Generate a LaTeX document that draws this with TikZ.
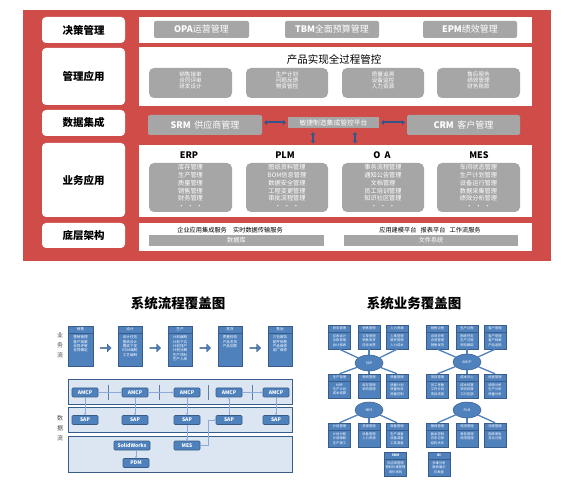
\documentclass[tikz,border=0pt]{standalone}
\usepackage{fontspec}
\setmainfont{Noto Sans CJK SC}
\usetikzlibrary{arrows.meta,shapes.geometric,shapes.arrows}
\definecolor{redbg}{HTML}{CF4C48}
\definecolor{grayB}{HTML}{A6A6A6}
\definecolor{blueF}{HTML}{4F81BD}
\definecolor{blueD}{HTML}{385D8A}
\definecolor{bandF}{HTML}{DCE6F2}
\definecolor{lineL}{HTML}{8EAADB}
\definecolor{arrD}{HTML}{34558B}
\newcommand{\fsz}[2]{\fontsize{#1}{#2}\selectfont}
\newcommand{\mkflow}[4]{%
  \node[fbody] (#1) at (#2,346) {};
  \node[fhead] (#1h) at (#2,329.5) {#3};
  \node[ftext, anchor=north] (#1t) at (#2,335.5) {#4};
}
\newcommand{\mkbiz}[5]{%
  \node[bbody] (#1) at (#2,#3+12) {};
  \node[bhead] (#1h) at (#2,#3+3.5) {#4};
  \node[btext, anchor=north] (#1t) at (#2,#3+9.5) {#5};
}
\begin{document}
\begin{tikzpicture}[x=1pt,y=-1pt,
  lbl/.style={fill=white, rounded corners=4pt, minimum width=83pt, inner sep=0pt, font=\bfseries\fsz{10.5}{12}},
  panel/.style={fill=white, minimum width=393pt, inner sep=0pt},
  gboxA/.style={fill=grayB, rounded corners=2pt, text=white, inner sep=0pt, minimum height=17pt, font=\fsz{9}{10}},
  gboxB/.style={fill=grayB, rounded corners=5pt, inner sep=0pt},
  gtext/.style={text=white, align=center, inner sep=0pt, font=\fsz{5.6}{6.2}},
  ltext/.style={text=white, align=center, inner sep=0pt, font=\fsz{6.2}{7.7}},
  hdr/.style={inner sep=0pt, font=\bfseries\fsz{9}{10}},
  dbl/.style={draw=arrD, line width=2pt, {Triangle[length=2.6pt,width=4.6pt]}-{Triangle[length=2.6pt,width=4.6pt]}},
  bar/.style={fill=grayB, inner sep=0pt, minimum height=11pt, text=white, font=\fsz{6.2}{7}},
  small/.style={inner sep=0pt, font=\fsz{6.2}{7}},
  ttl/.style={inner sep=0pt, font=\bfseries\fsz{13.5}{15}},
  side/.style={inner sep=0pt, align=center, text=black!70, font=\fsz{6}{10}},
  fbody/.style={fill=blueF, draw=blueD, line width=0.5pt, minimum width=24.5pt, minimum height=40pt, inner sep=0pt},
  fhead/.style={fill=blueF, draw=blueD, line width=0.5pt, minimum width=24.5pt, minimum height=7pt, inner sep=0pt, text=white, font=\fsz{3.6}{4}},
  ftext/.style={text=white, align=center, inner sep=0pt, font=\fsz{3.6}{4.4}},
  farr/.style={single arrow, fill=blueF, draw=blueD, line width=0.3pt, minimum width=8pt, minimum height=11pt, single arrow head extend=1.5pt, inner sep=0pt},
  band/.style={fill=bandF, draw=blueD, line width=0.8pt, minimum width=224pt, inner sep=0pt},
  sbox/.style={fill=blueF, draw=blueD, line width=0.6pt, rounded corners=1pt, minimum width=26pt, minimum height=9pt, inner sep=0pt, text=white, font=\bfseries\fsz{5}{6}},
  conn/.style={draw=lineL, line width=0.6pt, -{Stealth[length=2.2pt,width=2.2pt]}},
  sep/.style={draw=blueD!80, line width=0.8pt},
  bbody/.style={fill=blueF, draw=blueD, line width=0.5pt, minimum width=22pt, minimum height=24pt, inner sep=0pt},
  bhead/.style={fill=blueF, draw=blueD, line width=0.5pt, minimum width=22pt, minimum height=7pt, inner sep=0pt, text=white, font=\fsz{3.3}{4}},
  btext/.style={text=white, align=center, inner sep=0pt, font=\fsz{3.3}{4.3}},
  ell/.style={ellipse, fill=blueF, draw=blueD, line width=0.5pt, minimum width=28pt, minimum height=16pt, inner sep=0pt, text=white, font=\fsz{3.5}{4}},
  eline/.style={draw=blueF, line width=1.3pt}
]
\useasboundingbox[fill=white] (0,0) rectangle (579,497);

% ================= top architecture =================
\fill[redbg] (23,10) rectangle (551,261);

\node[lbl, minimum height=26pt] (l1) at (83.5,30) {决策管理};
\node[lbl, minimum height=57pt] (l2) at (83.5,76.5) {管理应用};
\node[lbl, minimum height=26pt] (l3) at (83.5,123) {数据集成};
\node[lbl, minimum height=74pt] (l4) at (83.5,180) {业务应用};
\node[lbl, minimum height=25pt] (l5) at (83.5,235.5) {底层架构};

\node[panel, minimum height=26pt] (p1) at (335.5,30) {};
\node[panel, minimum height=59pt] (p2) at (335.5,76.5) {};
\node[panel, minimum height=72pt] (p4) at (335.5,181) {};
\node[panel, minimum height=28pt] (p5) at (335.5,237) {};

% row 1
\node[gboxA, minimum width=95pt] (opa) at (201.5,29.5) {\textbf{OPA}运营管理};
\node[gboxA, minimum width=94pt] (tbm) at (332,29.5) {\textbf{TBM}全面预算管理};
\node[gboxA, minimum width=94pt] (epm) at (470,29.5) {\textbf{EPM}绩效管理};

% row 2
\node[inner sep=0pt, font=\fsz{10.5}{12}] (t2) at (334,59) {产品实现全过程管控};
\node[gboxB, minimum width=83pt, minimum height=30pt] (m1) at (190.5,83) {};
\node[gboxB, minimum width=82pt, minimum height=30pt] (m2) at (287,83) {};
\node[gboxB, minimum width=82pt, minimum height=30pt] (m3) at (383,83) {};
\node[gboxB, minimum width=83pt, minimum height=30pt] (m4) at (478.5,83) {};
\node[gtext] (m1t) at (190.5,80.5) {销售接单\\合同评审\\研发设计};
\node[gtext] (m2t) at (287,80.5) {生产计划\\问题反馈\\物资管控};
\node[gtext] (m3t) at (383,80.5) {质量追溯\\设备监控\\人力资源};
\node[gtext] (m4t) at (478.5,80.5) {售后服务\\绩效管理\\财务账款};

% row 3
\node[fill=grayB, rounded corners=2pt, inner sep=0pt, minimum width=114pt, minimum height=20pt, text=white, font=\fsz{9}{10}] (srm) at (205,125) {\textbf{SRM}\,\ 供应商管理};
\node[fill=grayB, inner sep=0pt, minimum width=91pt, minimum height=11pt, text=white, font=\fsz{6.8}{7.5}] (plat) at (333.5,122.5) {敏捷制造集成管控平台};
\node[fill=grayB, rounded corners=2pt, inner sep=0pt, minimum width=113pt, minimum height=20pt, text=white, font=\fsz{9}{10}] (crm) at (463.5,125) {\textbf{CRM}\,\ 客户管理};
\draw[dbl, shorten <=2pt, shorten >=2pt] (srm.east |- plat) -- (plat.west);
\draw[dbl, shorten <=2pt, shorten >=2pt] (plat.east) -- (crm.west |- plat);
\draw[dbl, shorten <=4pt, shorten >=1.5pt] ([xshift=-20.5pt]plat.south) -- ([xshift=-20.5pt]plat.south |- p4.north);
\draw[dbl, shorten <=4pt, shorten >=1.5pt] ([xshift=21.5pt]plat.south) -- ([xshift=21.5pt]plat.south |- p4.north);

% row 4
\node[hdr] (h1) at (189,155) {ERP};
\node[hdr] (h2) at (285,155) {PLM};
\node[hdr] (h3) at (382,155) {O\ \ A};
\node[hdr] (h4) at (479,155) {MES};
\node[gboxB, minimum width=83pt, minimum height=49pt] (e1) at (190.5,187.5) {};
\node[gboxB, minimum width=82pt, minimum height=49pt] (e2) at (287,187.5) {};
\node[gboxB, minimum width=82pt, minimum height=49pt] (e3) at (383,187.5) {};
\node[gboxB, minimum width=83pt, minimum height=49pt] (e4) at (478.5,187.5) {};
\node[ltext, anchor=north] (e1t) at (190.5,164.5) {库存管理\\生产管理\\质量管理\\销售管理\\财务管理\\·\ \ ·\ \ ·};
\node[ltext, anchor=north] (e2t) at (287,164.5) {图纸资料管理\\BOM信息管理\\数据安全管理\\工程变更管理\\审批流程管理\\·\ \ ·\ \ ·};
\node[ltext, anchor=north] (e3t) at (383,164.5) {事务流程管理\\通知公告管理\\文档管理\\员工培训管理\\知识社区管理\\·\ \ ·\ \ ·};
\node[ltext, anchor=north] (e4t) at (478.5,164.5) {车间状态管理\\生产计划管理\\设备运行管理\\数据采集管理\\绩效分析管理\\·\ \ ·\ \ ·};

% row 5
\node[small] (u1) at (230,230) {企业应用集成服务\quad 实时数据传输服务};
\node[small] (u2) at (430,230) {应用建模平台\ \ \ 报表平台\ \ \ 工作流服务};
\node[bar, minimum width=175pt] (db) at (236.5,240.5) {数据库};
\node[bar, minimum width=174pt] (fs) at (431,240.5) {文件系统};

% ================= bottom left: process coverage =================
\node[ttl] (ttl1) at (178,303) {系统流程覆盖图};
\node[side] (sd1) at (60,345) {业\\务\\流};
\node[side] (sd2) at (60,428) {数\\据\\流};

\mkflow{f1}{80.5}{销售}{营销管理\\客户档案\\合同评审\\合同确定}
\mkflow{f2}{130}{设计}{设计任务\\图纸设计\\图纸下发\\BOM编制\\工艺编制}
\mkflow{f3}{180}{生产}{计划编制\\计划下达\\计划排产\\计划分解\\生产领料\\生产入库}
\mkflow{f4}{230}{发货}{质量检验\\产品发货\\产品回款}
\mkflow{f5}{280}{售后}{三包服务\\配件销售\\产品维修\\返厂维修}
\node[farr] (fa1) at (105.5,348) {};
\node[farr] (fa2) at (155,348) {};
\node[farr] (fa3) at (205,348) {};
\node[farr] (fa4) at (255,348) {};

\node[band, minimum height=25pt] (b1) at (180,391.5) {};
\node[band, minimum height=25pt] (b2) at (180,419.5) {};
\node[band, minimum height=36pt] (b3) at (180,454) {};

\draw[sep] (108,385) -- (108,400);
\draw[sep] (159,385) -- (159,400);
\draw[sep] (208,385) -- (208,400);
\draw[sep] (252,385) -- (252,400);

\node[sbox] (a1) at (85,392.5) {AMCP};
\node[sbox] (a2) at (135,392.5) {AMCP};
\node[sbox] (a3) at (187,392.5) {AMCP};
\node[sbox] (a4) at (229,392.5) {AMCP};
\node[sbox] (a5) at (276,392.5) {AMCP};
\node[sbox] (s1) at (85,420) {SAP};
\node[sbox] (s2) at (135,420) {SAP};
\node[sbox] (s3) at (187,420) {SAP};
\node[sbox] (s4) at (229,420) {SAP};
\node[sbox] (s5) at (276,420) {SAP};
\node[sbox, minimum width=36pt] (sw) at (132,445.5) {SolidWorks};
\node[sbox] (pdm) at (136,463) {PDM};
\node[sbox] (mes) at (187,445.5) {MES};

\coordinate (k1) at (208,0);
\draw[conn] (a1) -- (a2);
\draw[conn] (a2) -- (a3);
\draw[conn] (a4) -- (a5);
\draw[conn] (a1) -- (s1);
\draw[conn] (a2) -- (s2);
\draw[conn] (a3) -- (s3);
\draw[conn] (s3) -- (mes);
\draw[conn] (s4) -- (a4);
\draw[conn] (a5) -- (s5);
\draw[conn] (sw.south -| pdm.north) -- (pdm.north);
\draw[conn] (mes.east) -| (k1 |- s4.west) -- (s4.west);

% ================= bottom right: business coverage =================
\node[ttl] (ttl2) at (414,303) {系统业务覆盖图};

\mkbiz{r11}{339.5}{325}{财务管理}{应收会计\\总账管理\\会计报表}
\mkbiz{r12}{369}{325}{销售管理}{订单管理\\销售发货\\应收发票}
\mkbiz{r13}{397}{325}{人力资源}{人事管理\\薪资管理\\人力成本}
\mkbiz{r21}{339.5}{374}{生产管理}{MRP\\生产计划\\成本核算}
\mkbiz{r22}{369}{374}{物资管理}{库存管理\\采购管理}
\mkbiz{r23}{397}{374}{质量管理}{质量计划\\质量检验\\质量控制}
\mkbiz{r31}{339.5}{423}{计划管理}{计划分配\\计划跟踪\\生产报工}
\mkbiz{r32}{369}{423}{资源管理}{设备管理\\人力资源}
\mkbiz{r33}{397}{423}{准备管理}{生产准备\\设备准备\\工具准备}

\mkbiz{q11}{437.5}{325}{销售过程}{合同评审\\合同管理\\销售发货}
\mkbiz{q12}{467}{325}{生产过程}{图纸任务\\生产过程\\采购跟踪}
\mkbiz{q13}{495}{325}{客户管理}{客户管理\\客户档案\\产品追踪}
\mkbiz{q21}{437.5}{374}{项目管理}{员工考勤\\工作计划\\项目进度}
\mkbiz{q22}{467}{374}{成本中心}{成本核算\\采购核算\\工时定额}
\mkbiz{q23}{495}{374}{经营管理}{绩效分析\\生产分析\\质量分析}
\mkbiz{q31}{437.5}{423}{图档管理}{版本控制\\历史记录\\结构关系}
\mkbiz{q32}{467}{423}{权限管理}{角色管理\\权限管理}
\mkbiz{q33}{495}{423}{流程管理}{图纸审批\\变化过程}

\mkbiz{srmb}{395.5}{452}{\textbf{SRM}}{供应商管理\\物料价格管理\\询价采购}
\mkbiz{bib}{439}{452}{\textbf{BI}}{多维分析\\报表展示\\仪表盘}

\node[ell] (esap) at (369,363) {SAP};
\node[ell] (eamcp) at (467,362) {AMCP};
\node[ell] (emes) at (369,410) {MES};
\node[ell] (eplm) at (467,410) {PLM};

\foreach \b in {r11,r12,r13} \draw[eline] (esap) -- (\b.south);
\foreach \b in {r21,r22,r23} \draw[eline] (esap) -- (\b.north);
\foreach \b in {q11,q12,q13} \draw[eline] (eamcp) -- (\b.south);
\foreach \b in {q21,q22,q23} \draw[eline] (eamcp) -- (\b.north);
\foreach \b in {r31,r32,r33} \draw[eline] (emes) -- (\b.north);
\foreach \b in {q31,q32,q33} \draw[eline] (eplm) -- (\b.north);
\end{tikzpicture}
\end{document}
